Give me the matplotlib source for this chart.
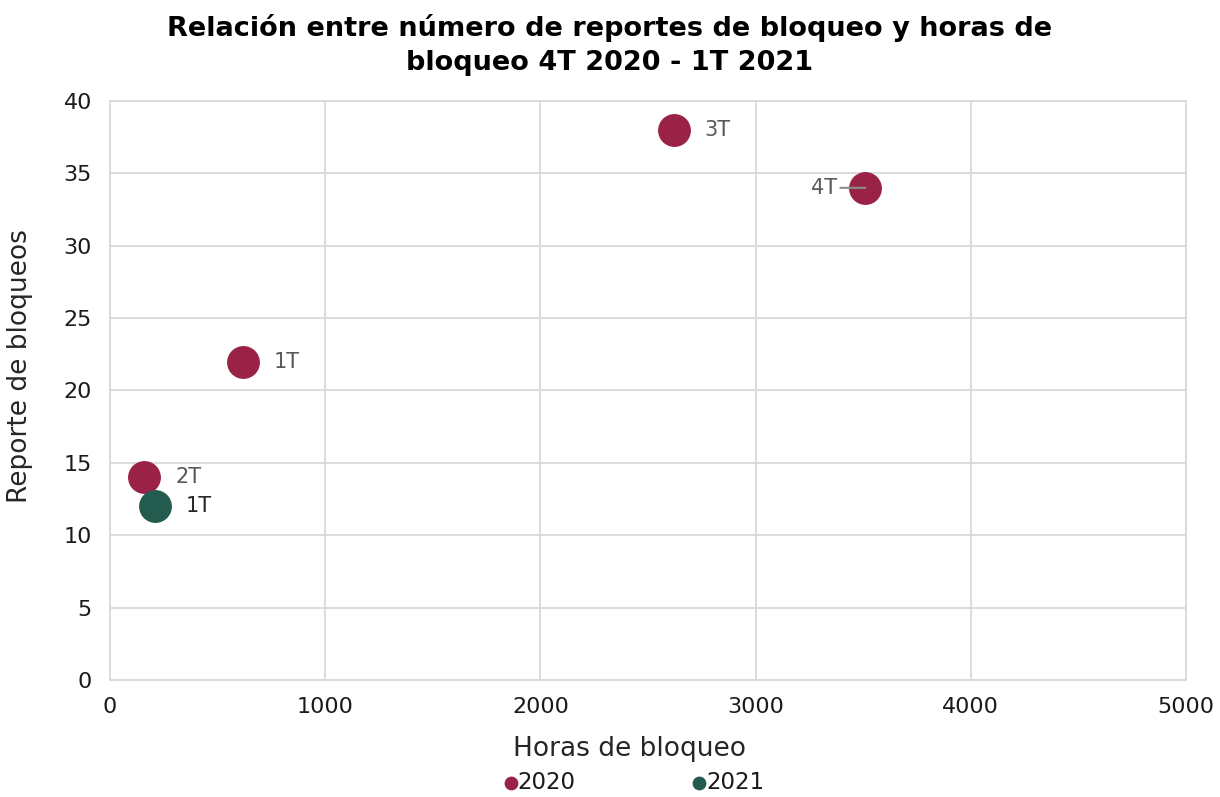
import matplotlib
matplotlib.use('Agg')
import matplotlib.pyplot as plt

# data
horas_2020 = [620, 160, 2620, 3510]
reportes_2020 = [22, 14, 38, 34]
labels_2020 = ['1T', '2T', '3T', '4T']

horas_2021 = [208]
reportes_2021 = [12]
labels_2021 = ['1T']

c2020 = '#9B2247'
c2021 = '#235B4E'
grid_c = '#D9D9D9'

plt.rcParams['font.family'] = ['DejaVu Sans']

fig = plt.figure(figsize=(12.2, 7.97), dpi=100)
ax = fig.add_axes([0.0902, 0.1468, 0.8819, 0.7265])

ax.scatter(horas_2020, reportes_2020, s=560, color=c2020, zorder=3, label='2020', linewidths=0)
ax.scatter(horas_2021, reportes_2021, s=560, color=c2021, zorder=3, label='2021', linewidths=0)

for x, y, t in zip(horas_2020, reportes_2020, labels_2020):
    if t == '4T':
        ax.annotate(t, xy=(x, y), xytext=(-20, 0), textcoords='offset points',
                    ha='right', va='center', fontsize=15, color='#595959',
                    arrowprops=dict(arrowstyle='-', color='#8C8C8C', lw=1.5,
                                    shrinkA=0, shrinkB=0))
    else:
        ax.annotate(t, xy=(x, y), xytext=(22, 0), textcoords='offset points',
                    ha='left', va='center', fontsize=15, color='#595959')
for x, y, t in zip(horas_2021, reportes_2021, labels_2021):
    ax.annotate(t, xy=(x, y), xytext=(22, 0), textcoords='offset points',
                ha='left', va='center', fontsize=15, color='#262626')

ax.set_xlim(0, 5000)
ax.set_ylim(0, 40)
ax.set_xticks(range(0, 5001, 1000))
ax.set_yticks(range(0, 41, 5))
ax.tick_params(length=0, labelsize=16, colors='#1a1a1a')
ax.tick_params(axis='y', pad=13)
ax.tick_params(axis='x', pad=12)
ax.grid(True, color=grid_c, lw=1.3, zorder=0)
ax.set_axisbelow(True)
for s in ax.spines.values():
    s.set_color(grid_c)
    s.set_linewidth(1.3)

ax.set_xlabel('Horas de bloqueo', fontsize=19, color='#262626')
ax.set_ylabel('Reporte de bloqueos', fontsize=19, color='#262626')
ax.xaxis.set_label_coords(0.483, -0.097)
ax.yaxis.set_label_coords(-0.072, 0.542)

fig.suptitle('Relación entre número de reportes de bloqueo y horas de\nbloqueo 4T 2020 - 1T 2021',
             x=0.5, y=0.983, fontsize=19.5, fontweight='bold', color='black', linespacing=1.4)

leg = ax.legend(loc='upper center', bbox_to_anchor=(0.485, -0.122), ncol=2, frameon=False,
                fontsize=16.5, markerscale=0.42, handletextpad=-0.2, columnspacing=4.9,
                handlelength=1.0)
for txt in leg.get_texts():
    txt.set_color('#1a1a1a')

fig.savefig('out.png', dpi=100)
